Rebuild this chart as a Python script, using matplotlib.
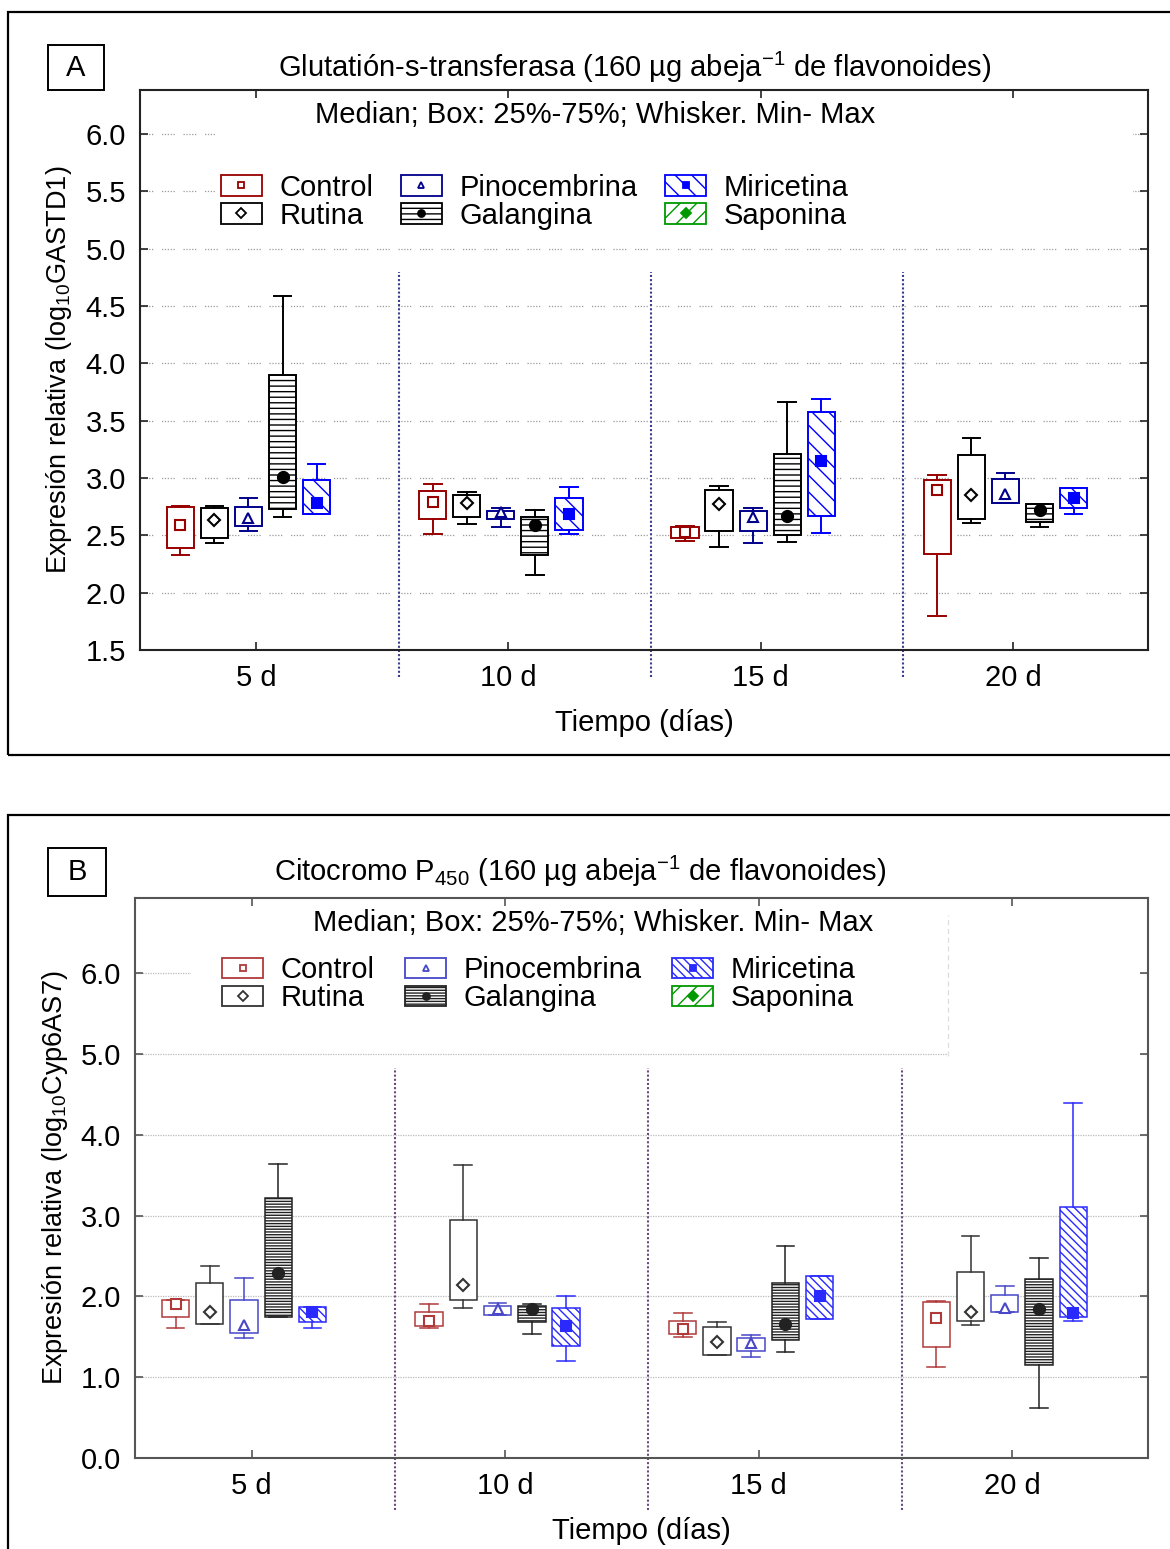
import matplotlib
matplotlib.use("Agg")
import matplotlib.pyplot as plt
from matplotlib.patches import Rectangle, Patch
from matplotlib.lines import Line2D
import matplotlib.transforms as mtrans

plt.rcParams['font.family'] = ['Liberation Sans', 'DejaVu Sans']
plt.rcParams['mathtext.fontset'] = 'custom'
plt.rcParams['mathtext.rm'] = 'Liberation Sans'
plt.rcParams['hatch.linewidth'] = 1.0

# ---------------- data ----------------
days = ["5 d", "10 d", "15 d", "20 d"]
treatments = ["Control", "Rutina", "Pinocembrina", "Galangina", "Miricetina", "Saponina"]

# (min, q1, median, q3, max) per day
gst_control = [(2.33, 2.39, 2.59, 2.75, 2.76), (2.51, 2.64, 2.79, 2.89, 2.95),
               (2.45, 2.48, 2.53, 2.57, 2.58), (1.80, 2.34, 2.90, 2.98, 3.03)]
gst_rutina = [(2.43, 2.48, 2.63, 2.74, 2.76), (2.60, 2.66, 2.78, 2.85, 2.88),
              (2.40, 2.54, 2.77, 2.90, 2.93), (2.61, 2.64, 2.85, 3.20, 3.35)]
gst_pinocembrina = [(2.54, 2.58, 2.65, 2.75, 2.83), (2.57, 2.64, 2.70, 2.71, 2.74),
                    (2.43, 2.54, 2.66, 2.71, 2.74), (2.78, 2.78, 2.86, 2.99, 3.04)]
gst_galangina = [(2.66, 2.73, 3.01, 3.90, 4.59), (2.15, 2.33, 2.59, 2.66, 2.72),
                 (2.44, 2.50, 2.67, 3.21, 3.66), (2.57, 2.62, 2.72, 2.77, 2.77)]
gst_miricetina = [(2.69, 2.69, 2.78, 2.98, 3.12), (2.51, 2.55, 2.69, 2.83, 2.92),
                  (2.52, 2.67, 3.15, 3.58, 3.69), (2.69, 2.74, 2.83, 2.91, 2.91)]

cyp_control = [(1.61, 1.74, 1.90, 1.96, 1.96), (1.61, 1.63, 1.70, 1.81, 1.91),
               (1.50, 1.53, 1.60, 1.70, 1.80), (1.13, 1.37, 1.73, 1.93, 1.94)]
cyp_rutina = [(1.66, 1.66, 1.81, 2.16, 2.37), (1.86, 1.96, 2.14, 2.94, 3.62),
              (1.27, 1.28, 1.44, 1.62, 1.68), (1.64, 1.70, 1.81, 2.30, 2.75)]
cyp_pinocembrina = [(1.48, 1.55, 1.65, 1.96, 2.23), (1.77, 1.77, 1.84, 1.88, 1.92),
                    (1.25, 1.33, 1.42, 1.49, 1.52), (1.81, 1.81, 1.86, 2.02, 2.13)]
cyp_galangina = [(1.75, 1.75, 2.29, 3.22, 3.64), (1.53, 1.68, 1.85, 1.88, 1.90),
                 (1.31, 1.46, 1.66, 2.16, 2.62), (0.62, 1.15, 1.84, 2.22, 2.47)]
cyp_miricetina = [(1.61, 1.68, 1.81, 1.87, 1.87), (1.20, 1.38, 1.63, 1.86, 2.00),
                  (1.72, 1.72, 2.01, 2.25, 2.25), (1.70, 1.75, 1.79, 3.10, 4.39)]

gst_ticks = [1.5, 2.0, 2.5, 3.0, 3.5, 4.0, 4.5, 5.0, 5.5, 6.0]
cyp_ticks = [0.0, 1.0, 2.0, 3.0, 4.0, 5.0, 6.0]

# ---------------- styles ----------------
FS = 21
markers = ['s', 'D', '^', 'o', 's', 'D']
hatches_A = ['', '', '', '---', '\\\\', '//']
hatches_B = ['', '', '', '------', '\\\\\\\\', '//']
colors_A = ['#990000', 'black', '#00008B', 'black', '#0000FF', '#009900']
colors_B = ['#B03A3A', '#333333', '#4848C8', '#222222', '#2A2AFF', '#009900']
filled = [False, False, False, True, True, True]
msizes = [7, 6, 7, 8, 7, 6]

fig = plt.figure(figsize=(11.7, 15.49), dpi=100)
W, H = 1170.0, 1549.0


def fx(px):
    return px / W


def fy(py):
    return 1 - py / H


# outer frames
fig.add_artist(Rectangle((fx(8), fy(755)), 1.2, fy(12) - fy(755), transform=fig.transFigure,
                         fill=False, lw=1.6, ec='black'))
fig.add_artist(Rectangle((fx(8), -0.1), 1.2, fy(815) + 0.1, transform=fig.transFigure,
                         fill=False, lw=1.6, ec='black'))


def make_panel(rect, datasets, colors, hatches, ylim, yticks, ylabel, title, letter,
               letter_box, title_xy, grid_ls, grid_color, divider_color, divider_span,
               covers, cover_edge, spine_color, lw, leg_xy, colspace):
    ax = fig.add_axes(rect)
    offsets = [-2, -1, 0, 1, 2]
    step = 0.135
    for k, data in enumerate(datasets):
        stats = [dict(whislo=d[0], q1=d[1], med=d[2], q3=d[3], whishi=d[4], fliers=[])
                 for d in data]
        pos = [i + offsets[k] * step for i in range(len(days))]
        c = colors[k]
        ax.bxp(stats, positions=pos, widths=0.108, patch_artist=True, showfliers=False,
               boxprops=dict(facecolor='white', edgecolor=c, hatch=hatches[k], lw=lw),
               whiskerprops=dict(color=c, lw=lw), capprops=dict(color=c, lw=lw),
               medianprops=dict(visible=False), capwidths=0.07, manage_ticks=False, zorder=3)
        ax.plot(pos, [d[2] for d in data], ls='none', marker=markers[k], color=c,
                mfc=c if filled[k] else 'white', mec=c, ms=msizes[k], mew=1.5, zorder=4)

    ax.set_xlim(-0.43, 3.565)
    ax.set_ylim(*ylim)
    ax.set_yticks(yticks)
    ax.set_yticklabels([f"{t:.1f}" for t in yticks])
    ax.set_xticks([i + 0.03 for i in range(len(days))])
    ax.set_xticklabels(days)
    ax.tick_params(direction='in', top=True, right=True, length=6, width=1.2,
                   labelsize=FS, pad=10, colors=spine_color, labelcolor='black')
    for s in ax.spines.values():
        s.set_color(spine_color)
        s.set_linewidth(1.5)
    ax.grid(axis='y', ls=grid_ls, color=grid_color, lw=0.9, zorder=0)
    ax.set_axisbelow(True)

    # group dividers extending below the axis
    trans = mtrans.blended_transform_factory(ax.transData, ax.transAxes)
    for i in range(len(days) - 1):
        ax.plot([i + 0.595, i + 0.595], divider_span, transform=trans, clip_on=False,
                color=divider_color, ls=(0, (1, 1)), lw=1.5, zorder=2)

    # white cover(s) for annotation/legend area
    for cv in covers:
        ax.add_patch(Rectangle(cv[0], cv[1], cv[2], transform=ax.transAxes,
                               facecolor='white', edgecolor='none', zorder=1))
    if cover_edge is not None:
        ax.plot([cover_edge[0], cover_edge[0]], cover_edge[1:3], transform=ax.transAxes,
                color=cover_edge[3], lw=0.9, ls=(0, (4, 3)), zorder=1)

    ax.text(0.452, 0.955, "Median; Box: 25%-75%; Whisker. Min- Max", transform=ax.transAxes,
            ha='center', va='center', fontsize=FS, zorder=5)

    handles = []
    for k in range(len(treatments)):
        c = colors[k]
        handles.append((Patch(facecolor='white', edgecolor=c, hatch=hatches[k], lw=1.3),
                        Line2D([], [], ls='none', marker=markers[k], color=c,
                               mfc=c if filled[k] else 'white', mec=c, ms=5, mew=1.3)))
    leg = ax.legend(handles, treatments, ncol=3, loc='upper left',
                    bbox_to_anchor=leg_xy, fontsize=FS, frameon=False,
                    handlelength=1.4, handleheight=0.7, handletextpad=0.6,
                    labelspacing=0.0, columnspacing=colspace, borderpad=0.2)
    leg.set_zorder(5)

    ax.set_ylabel(ylabel, fontsize=19.5, labelpad=8)
    ax.set_xlabel("Tiempo (días)", fontsize=FS, labelpad=12)

    fig.text(title_xy[0], title_xy[1], title, ha='center', va='center', fontsize=FS)
    lb = letter_box
    fig.add_artist(Rectangle((fx(lb[0]), fy(lb[3])), fx(lb[2]) - fx(lb[0]), fy(lb[1]) - fy(lb[3]),
                             transform=fig.transFigure, fill=False, lw=1.4, ec='black'))
    fig.text(fx((lb[0] + lb[2]) / 2), fy((lb[1] + lb[3]) / 2), letter, ha='center',
             va='center', fontsize=FS)
    return ax


axA = make_panel([fx(140), fy(650), fx(1148) - fx(140), fy(90) - fy(650)],
                 [gst_control, gst_rutina, gst_pinocembrina, gst_galangina, gst_miricetina],
                 colors_A, hatches_A, (1.5, 6.385), gst_ticks,
                 r"Expresión relativa (log$_{\mathregular{10}}$GASTD1)",
                 r"Glutatión-s-transferasa (160 µg abeja$^{\mathregular{-1}}$ de flavonoides)",
                 "A", (48, 45, 104, 90), (fx(635), fy(67)),
                 (0, (1, 1.3, 1, 1.3, 1, 1.3, 1, 1.3, 1, 7)), '#999999', '#3c3c8c',
                 (-0.048, 0.675),
                 [((0.075, 0.735), 0.91, 0.235)], None, '#222222', 1.4,
                 (0.06, 0.887), 0.95)

axB = make_panel([fx(135), fy(1458), fx(1148) - fx(135), fy(898) - fy(1458)],
                 [cyp_control, cyp_rutina, cyp_pinocembrina, cyp_galangina, cyp_miricetina],
                 colors_B, hatches_B, (0.0, 6.93), cyp_ticks,
                 r"Expresión relativa (log$_{\mathregular{10}}$Cyp6AS7)",
                 r"Citocromo P$_{\mathregular{450}}$ (160 µg abeja$^{\mathregular{-1}}$ de flavonoides)",
                 "B", (48, 848, 106, 896), (fx(580), fy(871)),
                 (0, (1, 1)), '#bbbbbb', '#6a4a7a',
                 (-0.093, 0.696),
                 [((0.055, 0.735), 0.7475, 0.25), ((0.8025, 0.705), 0.19, 0.28)],
                 (0.8025, 0.717, 0.97, '#dddddd'), '#555555', 1.1,
                 (0.066, 0.933), 1.05)

fig.savefig("out.png", dpi=100)
